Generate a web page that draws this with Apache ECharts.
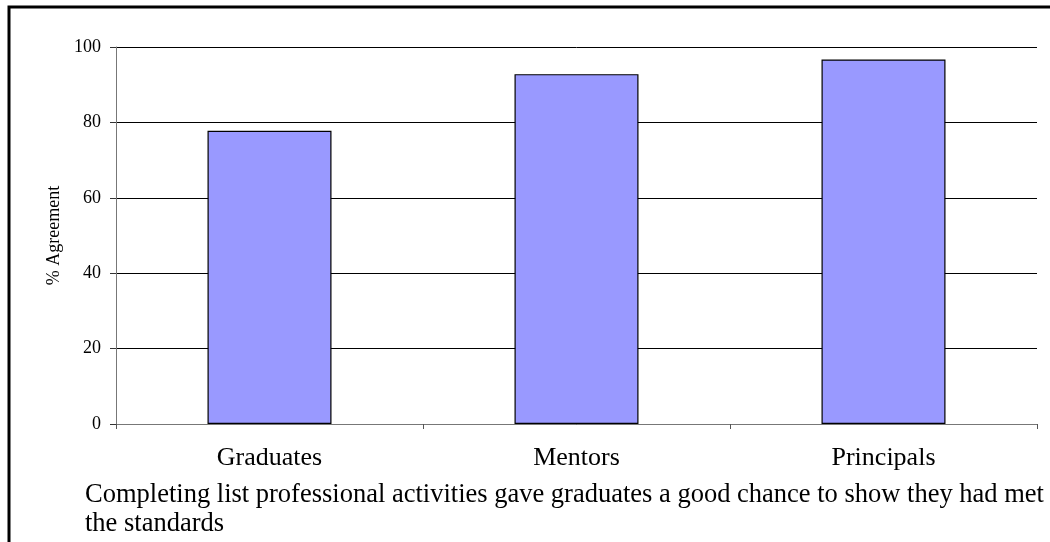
<!DOCTYPE html>
<html lang="en">
<head>
    <meta charset="UTF-8" />
    <title>% Agreement</title>
    <script src="https://cdn.jsdelivr.net/npm/echarts@6.0.0/dist/echarts.min.js"></script>
    <style>
        html, body { margin: 0; padding: 0; background: #fff; }
        #main { width: 1050px; height: 542px; }
    </style>
</head>
<body>
<div id="main"></div>
<script>
    var categories = ['Graduates', 'Mentors', 'Principals'];
    var agreement = [77.8, 92.8, 96.7];
    var yTicks = { min: 0, max: 100, step: 20 };
    var caption = 'Completing list professional activities gave graduates a good chance to show they had met\nthe standards';

    var serif = "'Liberation Serif', 'Times New Roman', serif";
    var myChart = echarts.init(document.getElementById('main'));

    var option = {
        backgroundColor: '#fff',
        animation: false,
        grid: {
            left: 116,
            right: 13,
            top: 47,
            bottom: 118,
            containLabel: false,
            outerBoundsMode: 'none'
        },
        xAxis: {
            type: 'category',
            data: categories,
            boundaryGap: true,
            axisLine: { show: true, lineStyle: { color: '#777', width: 1 } },
            axisTick: { show: true, alignWithLabel: false, length: 5, lineStyle: { color: '#555' } },
            axisLabel: { color: '#000', fontFamily: serif, fontSize: 26, margin: 21 },
            splitLine: { show: false }
        },
        yAxis: {
            type: 'value',
            min: yTicks.min,
            max: yTicks.max,
            interval: yTicks.step,
            name: '% Agreement',
            nameLocation: 'middle',
            nameRotate: 90,
            nameGap: 52,
            nameTextStyle: { color: '#000', fontFamily: serif, fontSize: 18 },
            axisLine: { show: true, lineStyle: { color: '#777', width: 1 } },
            axisTick: { show: true, length: 6, lineStyle: { color: '#333' } },
            axisLabel: { color: '#000', fontFamily: serif, fontSize: 18, margin: 15 },
            splitLine: { show: true, lineStyle: { color: '#000', width: 1 } }
        },
        graphic: [
            {
                type: 'rect',
                shape: { x: 9, y: 7, width: 1100, height: 600 },
                style: { fill: 'none', stroke: '#000', lineWidth: 3 },
                silent: true
            },
            {
                type: 'text',
                left: 85,
                top: 481,
                style: {
                    text: caption,
                    fill: '#000',
                    font: '26.5px ' + serif,
                    lineHeight: 29
                }
            }
        ],
        series: [
            {
                name: '% Agreement',
                type: 'bar',
                data: agreement,
                barWidth: 124,
                itemStyle: { color: '#9999ff', borderColor: '#000', borderWidth: 1.2 }
            }
        ]
    };
    myChart.setOption(option);
</script>
</body>
</html>
